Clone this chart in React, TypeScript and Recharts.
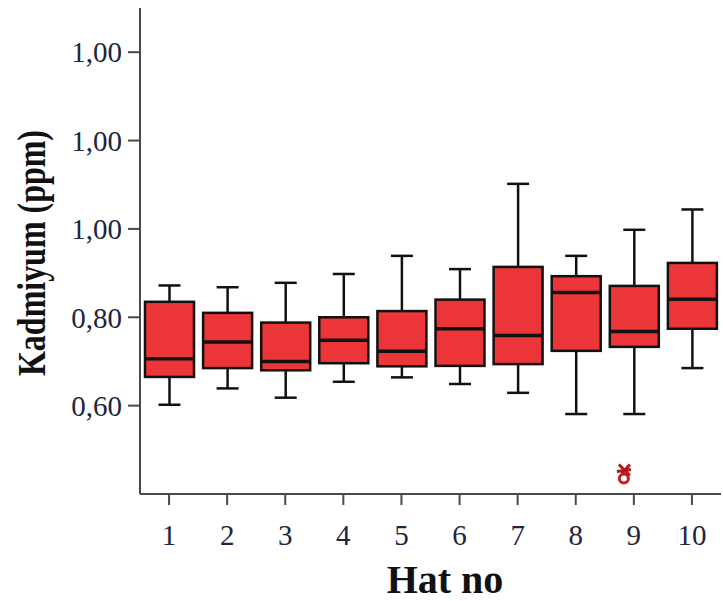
import { Bar, ComposedChart, Label, Scatter, XAxis, YAxis } from 'recharts'

const categories = ['1', '2', '3', '4', '5', '6', '7', '8', '9', '10']
const whiskerLow = [0.602, 0.639, 0.618, 0.654, 0.664, 0.649, 0.629, 0.581, 0.581, 0.685]
const q1 = [0.665, 0.685, 0.68, 0.696, 0.689, 0.69, 0.694, 0.724, 0.733, 0.774]
const median = [0.706, 0.744, 0.7, 0.748, 0.723, 0.774, 0.759, 0.856, 0.768, 0.841]
const q3 = [0.835, 0.81, 0.788, 0.8, 0.814, 0.84, 0.914, 0.893, 0.871, 0.923]
const whiskerHigh = [0.872, 0.868, 0.878, 0.898, 0.939, 0.909, 1.102, 0.939, 0.998, 1.044]

const outlierCategories = ['9']
const outlierValues = [0.444]

const yTicks = [0.6, 0.8, 1.0, 1.2, 1.4]
const yTickLabels = ['0,60', '0,80', '1,00', '1,00', '1,00']

const data = categories.map((name, i) => {
  const o = outlierCategories.indexOf(name)
  return {
    name,
    min: whiskerLow[i],
    q1: q1[i],
    median: median[i],
    q3: q3[i],
    max: whiskerHigh[i],
    outlier: o >= 0 ? outlierValues[o] : null,
  }
})

const serif = "'Liberation Serif', 'DejaVu Serif', serif"
const tickColor = '#1d2540'
const frame = '#4a4a4a'

// draws the whole box from the bar's [min, max] range
const BoxShape = (props: any) => {
  const { x, y, width, height, payload } = props
  const top = Math.min(y, y + height)
  const bottom = Math.max(y, y + height)
  const span = payload.max - payload.min
  const py = (v: number) => bottom - ((v - payload.min) / span) * (bottom - top)
  const cx = x + width / 2
  const cap = 11
  return (
    <g>
      <line x1={cx} x2={cx} y1={py(payload.max)} y2={py(payload.q3)} stroke="#111" strokeWidth={2.5} />
      <line x1={cx} x2={cx} y1={py(payload.q1)} y2={py(payload.min)} stroke="#111" strokeWidth={2.5} />
      <line x1={cx - cap} x2={cx + cap} y1={py(payload.max)} y2={py(payload.max)} stroke="#111" strokeWidth={2.5} />
      <line x1={cx - cap} x2={cx + cap} y1={py(payload.min)} y2={py(payload.min)} stroke="#111" strokeWidth={2.5} />
      <rect
        x={x}
        y={py(payload.q3)}
        width={width}
        height={py(payload.q1) - py(payload.q3)}
        fill="#ec3538"
        stroke="#111"
        strokeWidth={2.5}
      />
      <line x1={x} x2={x + width} y1={py(payload.median)} y2={py(payload.median)} stroke="#111" strokeWidth={3.5} />
    </g>
  )
}

const OutlierShape = (props: any) => {
  const { cx, cy, payload } = props
  if (payload?.outlier == null || !Number.isFinite(cy)) return <g />
  const px = cx - 10
  return (
    <g>
      <circle cx={px} cy={cy + 4} r={4.5} fill="#fff" stroke="#c41e22" strokeWidth={3} />
      <path
        d={`M${px - 5},${cy - 10} L${px + 6},${cy + 1} M${px + 6},${cy - 10} L${px - 2},${cy - 1} M${px - 7},${cy - 3} L${px + 7},${cy - 5}`}
        stroke="#b01a1e"
        strokeWidth={3}
      />
    </g>
  )
}

export default function App() {
  return (
    <div style={{ position: 'absolute', left: 0, top: 0, background: '#fff' }}>
      <ComposedChart width={723} height={601} data={data} margin={{ top: 8, right: 2, bottom: 0, left: 0 }}>
        <XAxis
          dataKey="name"
          type="category"
          height={107}
          tickSize={11}
          tickMargin={19}
          tick={{ fontSize: 29, fontFamily: serif, fill: tickColor }}
          tickLine={{ stroke: frame, strokeWidth: 2 }}
          axisLine={{ stroke: frame, strokeWidth: 2 }}
        >
          <Label
            content={() => (
              <text x={445} y={593} textAnchor="middle" fontFamily={serif} fontSize={40} fontWeight="bold" fill="#111">
                Hat no
              </text>
            )}
          />
        </XAxis>
        <XAxis xAxisId="top" dataKey="name" orientation="top" height={0} tick={false} tickLine={false} axisLine={{ stroke: frame, strokeWidth: 2 }} />
        <YAxis
          type="number"
          domain={[0.4, 1.5]}
          ticks={yTicks}
          width={140}
          tickSize={12}
          tickMargin={6}
          tickFormatter={(v: number) => yTickLabels[yTicks.indexOf(v)] ?? ''}
          tick={{ fontSize: 29, fontFamily: serif, fill: tickColor }}
          tickLine={{ stroke: frame, strokeWidth: 2 }}
          axisLine={{ stroke: frame, strokeWidth: 2 }}
        >
          <Label
            content={() => (
              <text
                x={0}
                y={0}
                transform="translate(45, 253) rotate(-90) scale(0.78, 1)"
                textAnchor="middle"
                fontFamily={serif}
                fontSize={41}
                fontWeight="bold"
                fill="#111"
              >
                Kadmiyum (ppm)
              </text>
            )}
          />
        </YAxis>
        <YAxis yAxisId="right" orientation="right" type="number" domain={[0.4, 1.5]} width={0} tick={false} tickLine={false} axisLine={{ stroke: frame, strokeWidth: 2 }} />
        <Bar dataKey={(d: any) => [d.min, d.max]} barSize={49} shape={BoxShape} isAnimationActive={false} />
        <Scatter dataKey="outlier" shape={OutlierShape} isAnimationActive={false} />
      </ComposedChart>
    </div>
  )
}
